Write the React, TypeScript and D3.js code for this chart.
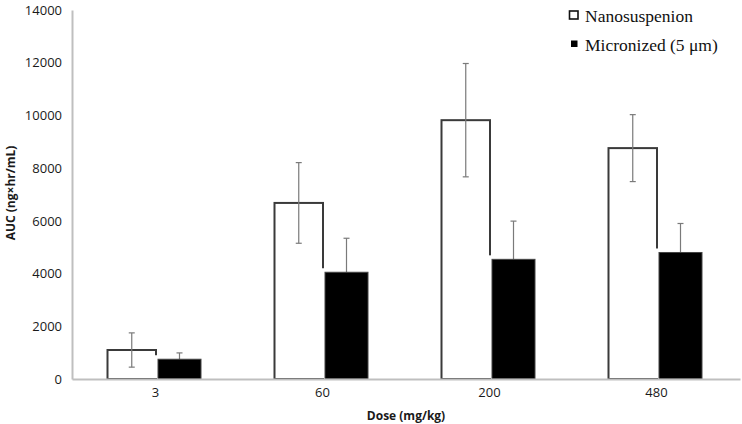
import React, { useRef, useEffect } from 'react';
import * as d3 from 'd3';

const doses = ['3', '60', '200', '480'];
const nanoMean = [1100, 6680, 9820, 8760];
const nanoErr = [650, 1530, 2150, 1270];
const microMean = [750, 4050, 4540, 4800];
const microErr = [240, 1290, 1450, 1100];
const yTicks = [0, 2000, 4000, 6000, 8000, 10000, 12000, 14000];
const legendLabels = ['Nanosuspenion', 'Micronized (5 \u03bcm)'];

const App = () => {
    const svgRef = useRef<SVGSVGElement>(null);

    useEffect(() => {
        const svg = d3.select(svgRef.current);
        svg.selectAll('*').remove();

        const x = d3.scaleBand().domain(doses).range([72, 740]).padding(0);
        const y = d3.scaleLinear().domain([0, 14000]).range([379, 10]);
        const cx = (d: string) => (x(d) as number) + x.bandwidth() / 2;

        const axisColor = '#bfbfbf';
        const font = '"Open Sans", sans-serif';

        // Y axis (no tick marks)
        const yAxis = svg.append('g')
            .attr('transform', 'translate(72,0)')
            .call(d3.axisLeft(y).tickValues(yTicks).tickSize(0).tickPadding(10).tickFormat(d3.format('d')));
        yAxis.select('.domain').attr('stroke', axisColor).attr('stroke-width', 2);
        yAxis.selectAll('text').attr('font-family', font).attr('font-size', 13).attr('fill', '#1a1a1a');

        // Y axis title
        svg.append('text')
            .attr('transform', 'translate(15,193) rotate(-90)')
            .attr('text-anchor', 'middle')
            .attr('font-family', font)
            .attr('font-weight', 'bold')
            .attr('font-size', 12)
            .attr('fill', '#1a1a1a')
            .text('AUC (ng\u00d7hr/mL)');

        const bw = 46;

        // White bars (Nanosuspension)
        svg.append('g').selectAll('rect')
            .data(doses)
            .join('rect')
            .attr('x', d => cx(d) - 48)
            .attr('width', 48.5)
            .attr('y', (d, i) => y(nanoMean[i]))
            .attr('height', (d, i) => y(0) - y(nanoMean[i]))
            .attr('fill', '#fff')
            .attr('stroke', '#3a3a3a')
            .attr('stroke-width', 2);

        // Error bars for white bars
        const errColor = '#7a7a7a';
        const nanoErrG = svg.append('g').selectAll('g').data(doses).join('g');
        nanoErrG.append('line')
            .attr('x1', d => cx(d) - 23.75).attr('x2', d => cx(d) - 23.75)
            .attr('y1', (d, i) => y(nanoMean[i] + nanoErr[i]))
            .attr('y2', (d, i) => y(nanoMean[i] - nanoErr[i]))
            .attr('stroke', errColor).attr('stroke-width', 1.2);
        [1, -1].forEach(s => {
            nanoErrG.append('line')
                .attr('x1', d => cx(d) - 26.75).attr('x2', d => cx(d) - 20.75)
                .attr('y1', (d, i) => y(nanoMean[i] + s * nanoErr[i]))
                .attr('y2', (d, i) => y(nanoMean[i] + s * nanoErr[i]))
                .attr('stroke', errColor).attr('stroke-width', 1.2);
        });

        // Error bars for black bars (drawn behind the bars)
        const microErrG = svg.append('g').selectAll('g').data(doses).join('g');
        microErrG.append('line')
            .attr('x1', d => cx(d) + 2.5 + bw / 2 - 1.5).attr('x2', d => cx(d) + 2.5 + bw / 2 - 1.5)
            .attr('y1', (d, i) => y(microMean[i] + microErr[i]))
            .attr('y2', (d, i) => y(microMean[i]))
            .attr('stroke', errColor).attr('stroke-width', 1.2);
        microErrG.append('line')
            .attr('x1', d => cx(d) + 2.5 + bw / 2 - 4.5).attr('x2', d => cx(d) + 2.5 + bw / 2 + 1.5)
            .attr('y1', (d, i) => y(microMean[i] + microErr[i]))
            .attr('y2', (d, i) => y(microMean[i] + microErr[i]))
            .attr('stroke', errColor).attr('stroke-width', 1.2);

        // White halo that hides the white bar's right edge next to the black bar
        svg.append('g').selectAll('rect')
            .data(doses)
            .join('rect')
            .attr('x', d => cx(d) - 0.8)
            .attr('width', 3)
            .attr('y', (d, i) => y(microMean[i]) - 4)
            .attr('height', (d, i) => y(0) - y(microMean[i]) + 3)
            .attr('fill', '#fff');

        // Black bars (Micronized)
        svg.append('g').selectAll('rect')
            .data(doses)
            .join('rect')
            .attr('x', d => cx(d) + 2.5)
            .attr('width', bw - 3)
            .attr('y', (d, i) => y(microMean[i]))
            .attr('height', (d, i) => y(0) - y(microMean[i]))
            .attr('fill', '#000')
            .attr('stroke', '#444')
            .attr('stroke-width', 1);

        // X axis
        const xAxis = svg.append('g')
            .attr('transform', 'translate(0,379)')
            .call(d3.axisBottom(x).tickSize(0).tickPadding(9));
        xAxis.select('.domain').attr('stroke', axisColor).attr('stroke-width', 2);
        xAxis.selectAll('text').attr('font-family', font).attr('font-size', 13).attr('fill', '#1a1a1a');

        // X axis title
        svg.append('text')
            .attr('x', 406)
            .attr('y', 420)
            .attr('text-anchor', 'middle')
            .attr('font-family', font)
            .attr('font-weight', 'bold')
            .attr('font-size', 12)
            .attr('fill', '#1a1a1a')
            .text('Dose (mg/kg)');

        // Legend
        const legend = svg.append('g');
        legend.append('rect')
            .attr('x', 569.5).attr('y', 11).attr('width', 8.5).attr('height', 8)
            .attr('fill', '#fff').attr('stroke', '#111').attr('stroke-width', 1.6);
        legend.append('rect')
            .attr('x', 571).attr('y', 40.5).attr('width', 6.5).attr('height', 6.5)
            .attr('fill', '#000');
        legend.selectAll('text')
            .data(legendLabels)
            .join('text')
            .attr('x', 585)
            .attr('y', (d, i) => 22 + i * 29)
            .attr('font-family', '"Liberation Serif", serif')
            .attr('font-size', 17.5)
            .attr('fill', '#111')
            .text(d => d);
    }, []);

    return (
        <svg ref={svgRef} width={742} height={424}
            style={{ position: 'absolute', left: 0, top: 0, background: '#fff' }} />
    );
};

export default App;
